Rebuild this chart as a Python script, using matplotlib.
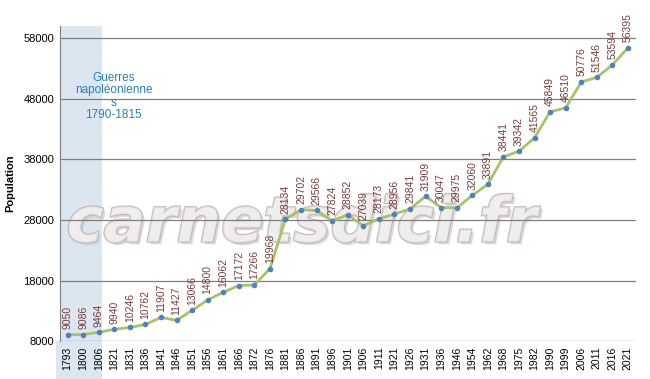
import matplotlib.pyplot as plt
import matplotlib.patheffects as pe
from matplotlib.patches import Rectangle
import numpy as np

years = ['1793', '1800', '1806', '1821', '1831', '1836', '1841', '1846', '1851', '1856',
         '1861', '1866', '1872', '1876', '1881', '1886', '1891', '1896', '1901', '1906',
         '1911', '1921', '1926', '1931', '1936', '1946', '1954', '1962', '1968', '1975',
         '1982', '1990', '1999', '2006', '2011', '2016', '2021']
population = [9050, 9086, 9464, 9940, 10246, 10762, 11907, 11427, 13066, 14800,
              16062, 17172, 17266, 19968, 28134, 29702, 29566, 27824, 28852, 27039,
              28173, 28956, 29841, 31909, 30047, 29975, 32060, 33891, 38441, 39342,
              41565, 45849, 46510, 50776, 51546, 53594, 56395]
yticks = [8000, 18000, 28000, 38000, 48000, 58000]
war_label = "Guerres\nnapoléonienne\ns\n1790-1815"

plt.rcParams['font.family'] = ['Liberation Sans', 'DejaVu Sans']

fig = plt.figure(figsize=(6.5, 3.79), dpi=100)
ax = fig.add_axes([0.092, 0.100, 0.886, 0.831])

x = np.arange(len(years))

# shaded period (napoleonic wars), runs down through the tick labels
band = Rectangle((-0.77, 0), 2.96, 1.0, transform=ax.get_xaxis_transform(),
                 facecolor='#dce6f1', edgecolor='none', zorder=0)
ax.add_patch(band)
band2 = Rectangle((-0.77, -0.13), 2.96, 0.13, transform=ax.get_xaxis_transform(),
                  facecolor='#dce6f1', edgecolor='none', zorder=0, clip_on=False)
ax.add_patch(band2)

# watermark
ax.text(0.42, 0.37, 'carnetsdici.fr', transform=ax.transAxes, ha='center', va='center',
        fontsize=45, style='italic', fontweight='bold', color='#f1eeee', alpha=0.85,
        family='DejaVu Sans', zorder=0.5,
        path_effects=[pe.withSimplePatchShadow(offset=(2, -2), shadow_rgbFace='#d0c8c8', alpha=0.7),
                      pe.withStroke(linewidth=1.8, foreground='#bdb5b5')])

for t in yticks:
    ax.axhline(t, color='#7f7f7f', linewidth=0.9, zorder=1)

ax.plot(x, population, color='#a4c467', linewidth=2, zorder=3)
ax.scatter(x, population, s=9, color='#4f81bd', zorder=4)

for xi, v in zip(x, population):
    ax.annotate(str(v), (xi, v), xytext=(0, 4), textcoords='offset points',
                rotation=90, ha='center', va='bottom', fontsize=7.5,
                color='#7b3b3b', zorder=5)

ax.text(2.95, 48400, war_label, ha='center', va='center', fontsize=8.5,
        color='#2a7dbd', linespacing=1.05, zorder=5)

ax.set_xlim(-0.5, len(years) - 0.5)
ax.set_ylim(8000, 60000)
ax.set_yticks(yticks)
ax.set_yticklabels([str(t) for t in yticks], fontsize=8)
ax.set_xticks(x)
ax.set_xticklabels(years, rotation=90, fontsize=7.5)
ax.tick_params(axis='both', length=0, pad=4)
ax.set_ylabel('Population', fontsize=8, fontweight='bold', labelpad=6)

for s in ['top', 'right', 'bottom']:
    ax.spines[s].set_visible(False)
ax.spines['left'].set_color('#7f7f7f')

fig.savefig('out.png', dpi=100)
